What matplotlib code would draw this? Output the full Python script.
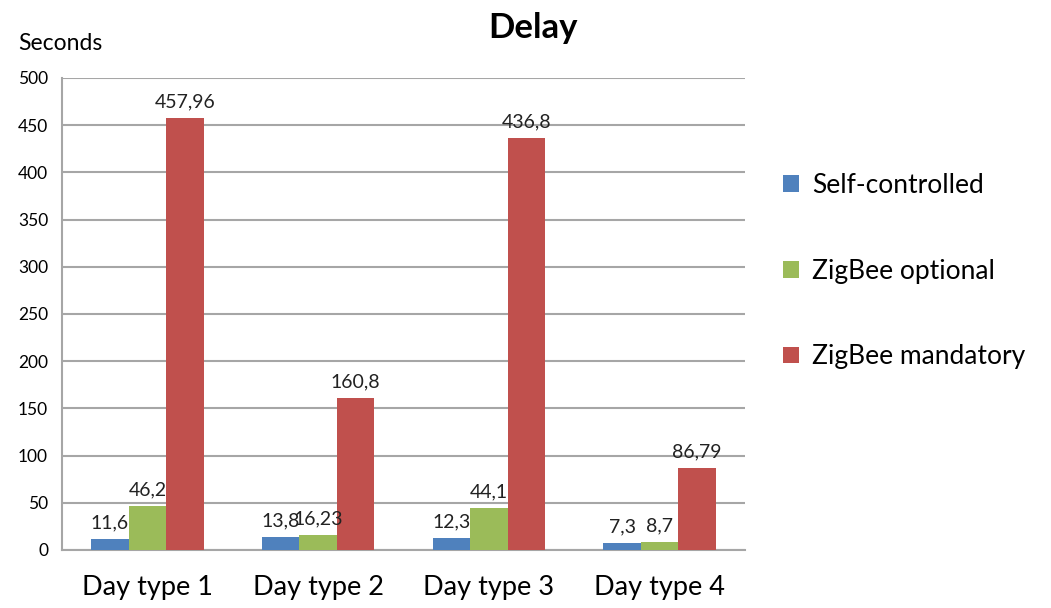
import numpy as np
import matplotlib.pyplot as plt

plt.rcParams['font.family'] = ['Lato', 'DejaVu Sans']

# Daten
categories = ["Day type 1", "Day type 2", "Day type 3", "Day type 4"]
series_names = ["Self-controlled", "ZigBee optional", "ZigBee mandatory"]
self_controlled = [11.6, 13.8, 12.3, 7.3]
zigbee_optional = [46.2, 16.23, 44.1, 8.7]
zigbee_mandatory = [457.96, 160.8, 436.8, 86.79]
value_labels = [
    ["11,6", "13,8", "12,3", "7,3"],
    ["46,2", "16,23", "44,1", "8,7"],
    ["457,96", "160,8", "436,8", "86,79"],
]
yticks = [0, 50, 100, 150, 200, 250, 300, 350, 400, 450, 500]

colors = ["#4F81BD", "#9BBB59", "#C0504D"]
series = [self_controlled, zigbee_optional, zigbee_mandatory]

fig = plt.figure(figsize=(10.51, 6.08), dpi=100)
ax = fig.add_axes([62 / 1051, 1 - 550 / 608, (745 - 62) / 1051, (550 - 78) / 608])

x = np.arange(len(categories))
width = 0.22
for i, (vals, name, col) in enumerate(zip(series, series_names, colors)):
    pos = x + (i - 1) * width
    ax.bar(pos, vals, width, color=col, label=name, zorder=3)
    for p, v, lab in zip(pos, vals, value_labels[i]):
        ax.text(p, v + 8, lab, ha="center", va="bottom", fontsize=14, color="#222222", zorder=4)

ax.set_xlim(-0.5, 3.5)
ax.set_ylim(0, 500)
ax.set_yticks(yticks)
ax.set_xticks(x)
ax.set_xticklabels(categories, fontsize=19.5)
ax.tick_params(axis="y", labelsize=12.5, length=0, pad=10)
ax.tick_params(axis="x", length=0, pad=18)
ax.grid(axis="y", color="#a6a6a6", linewidth=1.5, zorder=0)
for s in ["top", "right"]:
    ax.spines[s].set_visible(False)
for s in ["left", "bottom"]:
    ax.spines[s].set_color("#a6a6a6")
    ax.spines[s].set_linewidth(1.5)

fig.text(533 / 1051, 1 - 28 / 608, "Delay", ha="center", va="center", fontsize=25, fontweight="bold")
fig.text(18 / 1051, 1 - 43 / 608, "Seconds", ha="left", va="center", fontsize=16.5)

ax.legend(loc="center left", bbox_to_anchor=(759 / 1051, 1 - 271 / 608), bbox_transform=fig.transFigure,
          frameon=False, fontsize=19, handlelength=0.6, handleheight=0.6, handletextpad=0.5,
          labelspacing=2.3)

plt.savefig("out.png", dpi=100)
